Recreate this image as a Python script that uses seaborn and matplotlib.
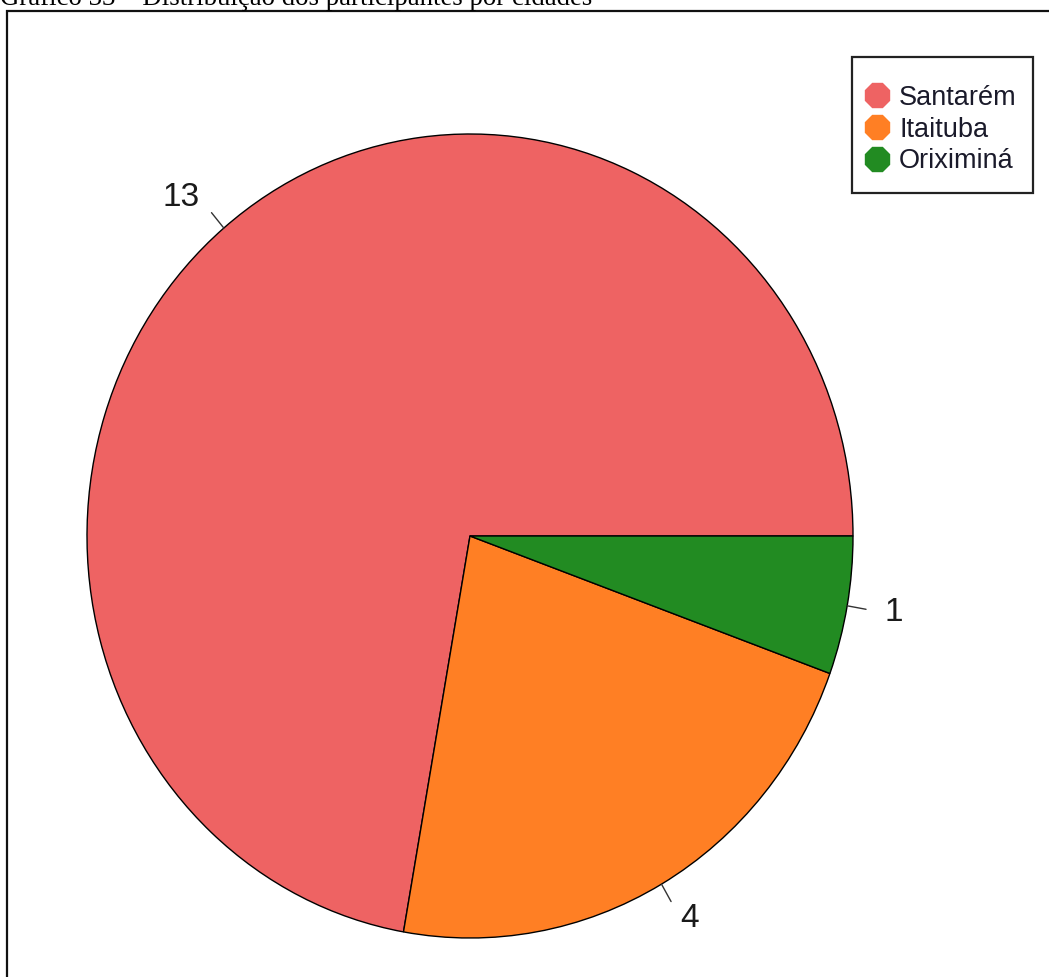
import numpy as np
import matplotlib
matplotlib.use("Agg")
import matplotlib.pyplot as plt
from matplotlib.lines import Line2D
from matplotlib.patches import Rectangle
import seaborn as sns

cidades = ["Santarém", "Itaituba", "Oriximiná"]
participantes = [13, 4, 1]
cores = ["#EE6363", "#FF7F24", "#228B22"]
titulo = "Gráfico 33 – Distribuição dos participantes por cidades"

sns.set_style("white")
plt.rcParams["font.family"] = ["Liberation Sans", "DejaVu Sans"]

W, H = 1049, 977
fig = plt.figure(figsize=(W / 100, H / 100), dpi=100)
ax = fig.add_axes([0, 0, 1, 1])

# pie centre and radii in pixels (slightly taller than wide)
cx, cy, rx, ry = 470, 536, 383, 402

wedges, _ = ax.pie(participantes, colors=cores, startangle=0, counterclock=True,
                   radius=1.0, center=(0, 0), frame=True,
                   wedgeprops=dict(edgecolor="black", linewidth=1.0))
ax.set_xlim(-cx / rx, (W - cx) / rx)
ax.set_ylim(-(H - cy) / ry, cy / ry)
ax.set_aspect("auto")
ax.axis("off")

# value labels with short tick lines, as in base-R pie
total = sum(participantes)
acum = np.cumsum([0] + participantes)
for i, v in enumerate(participantes):
    ang = np.deg2rad((acum[i] + acum[i + 1]) / 2 / total * 360)
    c, s = np.cos(ang), np.sin(ang)
    ax.plot([c, 1.05 * c], [s, 1.05 * s], color="#333333", lw=1.0)
    ax.text(1.1 * c, 1.1 * s, str(v), fontsize=24,
            ha="left" if c > 0 else "right", va="center", color="#1a1a1a")

# legend entries, with the box drawn separately (wide top/bottom margins)
handles = [Line2D([0], [0], marker="8", linestyle="none", markersize=19,
                  markerfacecolor=col, markeredgecolor=col) for col in cores]
leg = fig.legend(handles, cidades, loc="center",
                 bbox_to_anchor=(939 / W, 1 - 129.5 / H), borderaxespad=0,
                 frameon=False, fontsize=19.5,
                 handletextpad=0.2, labelspacing=0.22, borderpad=0,
                 handlelength=1.2)
for t in leg.get_texts():
    t.set_color("#1a1a2a")
fig.add_artist(Rectangle((852 / W, 1 - 193 / H), (1033 - 852) / W, 136 / H,
                         transform=fig.transFigure, fill=False,
                         edgecolor="#222222", linewidth=1.6))

# caption above the frame and the frame's top/left edges
fig.text(0.0, 1 - 5 / H, titulo, fontsize=19.3, family="Liberation Serif",
         ha="left", va="baseline", color="black")
fig.add_artist(Rectangle((7 / W, -0.1), 1.2, 1.1 - 11 / H,
                         transform=fig.transFigure, fill=False,
                         edgecolor="#111111", linewidth=1.6))

fig.savefig("out.png", dpi=100)
